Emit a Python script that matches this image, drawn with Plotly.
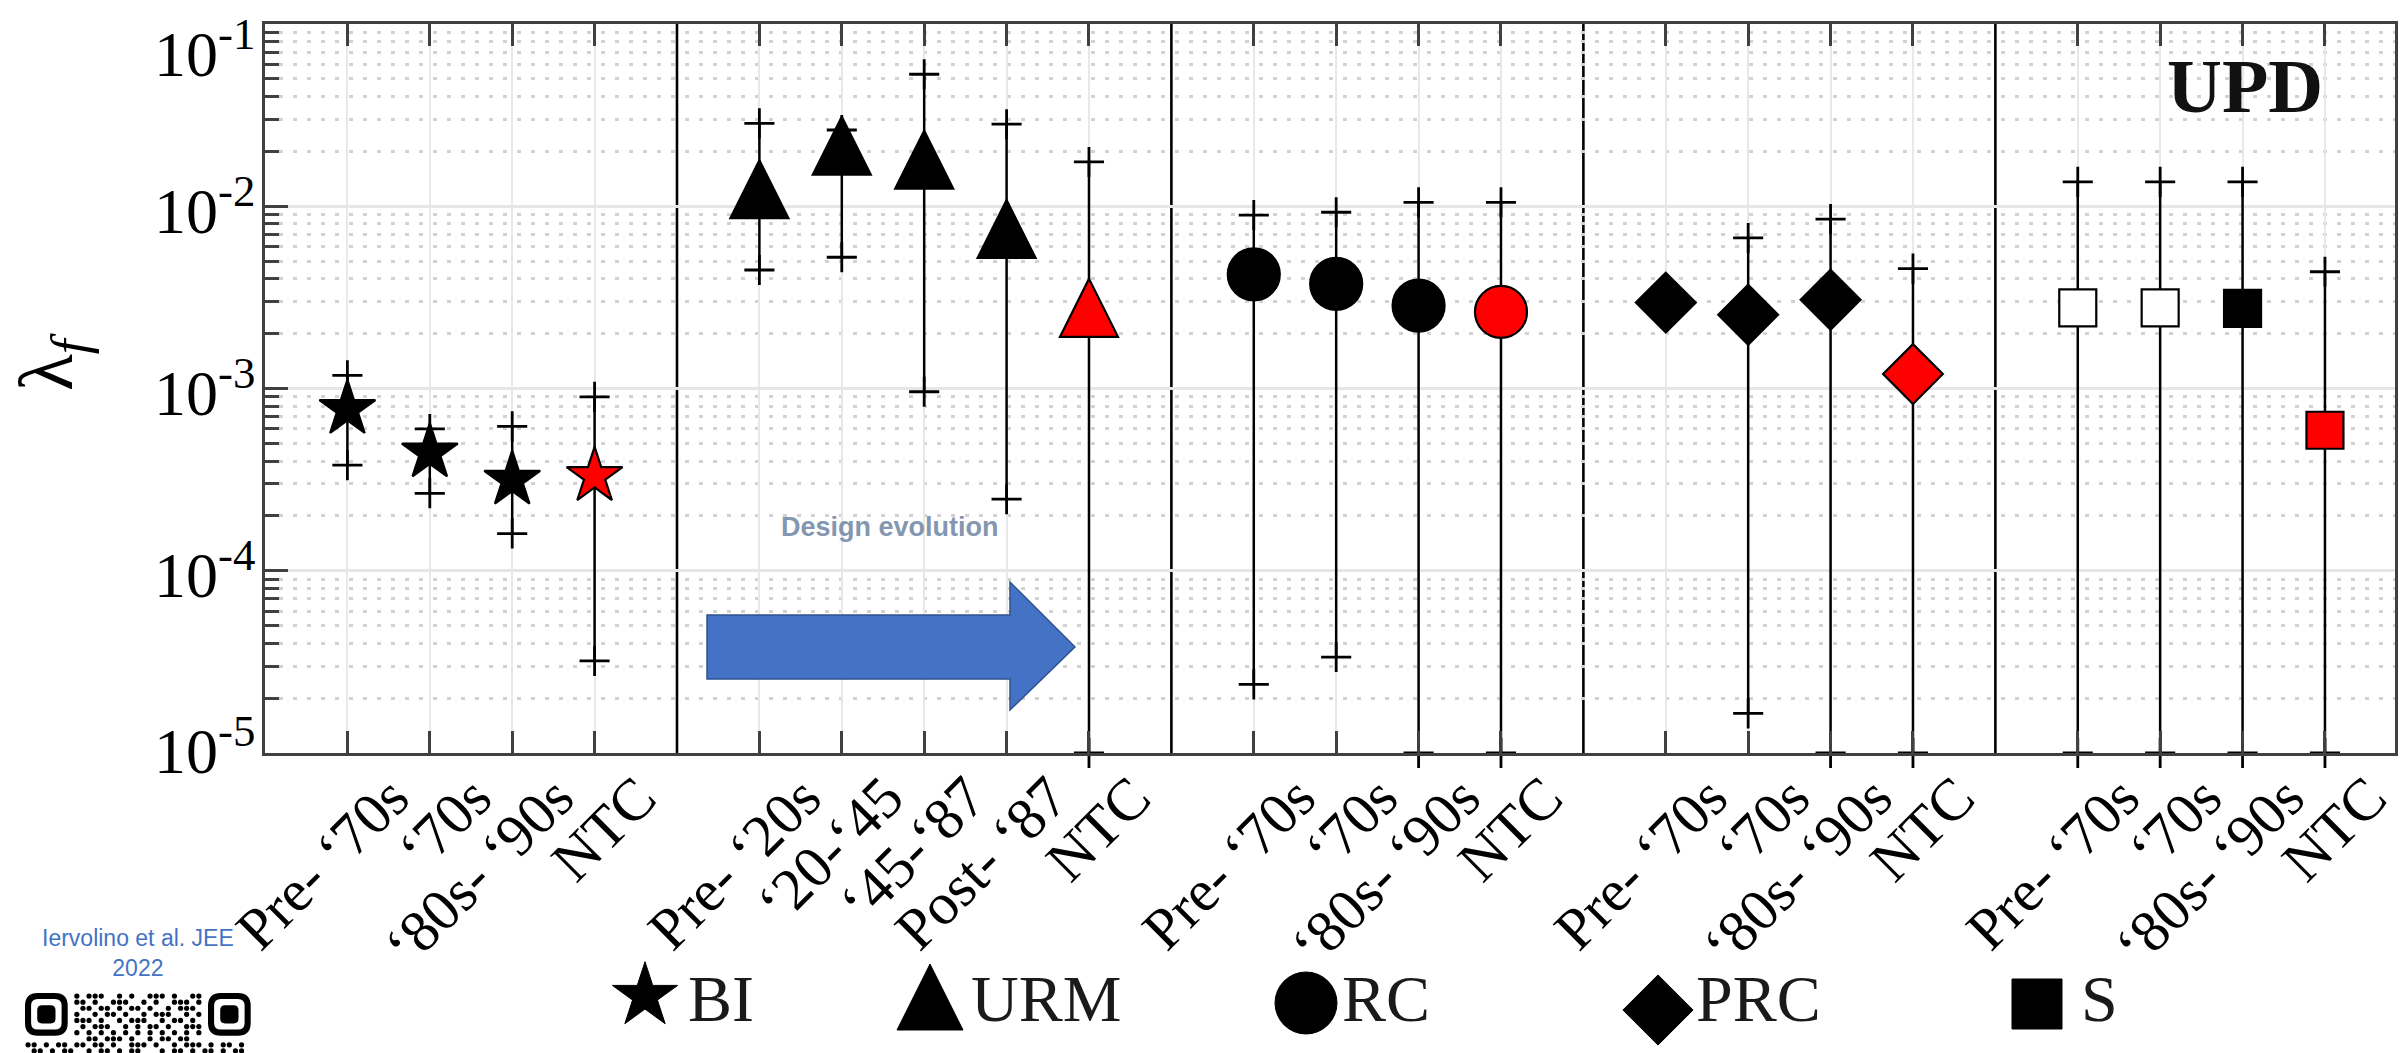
import math
import plotly.graph_objects as go

W, H = 2407, 1053

# ---- data: failure rate lambda_f by building class and design period ----
BI_PERIODS = ["Pre- ‘70s", "‘70s", "‘80s- ‘90s", "NTC"]
BI_LAMBDA = [7.7e-4, 4.45e-4, 3.15e-4, 3.3e-4]
BI_UPPER = [1.18e-3, 6.0e-4, 6.2e-4, 9.0e-4]
BI_LOWER = [3.8e-4, 2.66e-4, 1.6e-4, 3.2e-5]

URM_PERIODS = ["Pre- ‘20s", "‘20-‘45", "‘45-‘87", "Post- ‘87", "NTC"]
URM_LAMBDA = [1.24e-2, 2.15e-2, 1.80e-2, 7.5e-3, 2.77e-3]
URM_UPPER = [2.85e-2, 2.62e-2, 5.3e-2, 2.82e-2, 1.75e-2]
URM_LOWER = [4.47e-3, 5.25e-3, 9.6e-4, 2.47e-4, 1e-5]

RC_PERIODS = ["Pre- ‘70s", "‘70s", "‘80s- ‘90s", "NTC"]
RC_LAMBDA = [4.23e-3, 3.75e-3, 2.85e-3, 2.63e-3]
RC_UPPER = [8.95e-3, 9.27e-3, 1.05e-2, 1.05e-2]
RC_LOWER = [2.38e-5, 3.36e-5, 1e-5, 1e-5]

PRC_PERIODS = ["Pre- ‘70s", "‘70s", "‘80s- ‘90s", "NTC"]
PRC_LAMBDA = [2.96e-3, 2.54e-3, 3.07e-3, 1.2e-3]
PRC_UPPER = [None, 6.7e-3, 8.5e-3, 4.55e-3]
PRC_LOWER = [None, 1.65e-5, 1e-5, 1e-5]

S_PERIODS = ["Pre- ‘70s", "‘70s", "‘80s- ‘90s", "NTC"]
S_LAMBDA = [2.77e-3, 2.77e-3, 2.75e-3, 5.9e-4]
S_UPPER = [1.36e-2, 1.36e-2, 1.36e-2, 4.37e-3]
S_LOWER = [1e-5, 1e-5, 1e-5, 1e-5]

Y_DECADES = [1e-5, 1e-4, 1e-3, 1e-2, 1e-1]

# top rows of the paper's QR code (dot modules; finder squares drawn apart)
QR_ROWS = [
    "        101110010100111010011        ",
    "        110100111001010011101        ",
    "        011011010110100101110        ",
    "        100101101001011100101        ",
    "        111010010111001011010        ",
    "        010111001010110100111        ",
    "        101010101010101010101        ",
    "        001101110100101101100        ",
    "110101101101101001110100101110101101",
    "0110101100101101011000101101011010110",
]

# ---- styles ----
K, RED, WHITE = "black", "#ff0000", "white"
CLASS_STYLE = {
    "BI": dict(symbol="star", size=42, fills=[K, K, K, RED]),
    "URM": dict(symbol="arrow-down", angle=180, size=58, fills=[K, K, K, K, RED]),
    "RC": dict(symbol="circle", size=52, fills=[K, K, K, RED]),
    "PRC": dict(symbol="diamond", size=46, fills=[K, K, K, RED]),
    "S": dict(symbol="square", size=37, fills=[WHITE, WHITE, K, RED]),
}
LEGEND_STYLE = {
    "BI": dict(size=49, at=(645, 996), text_at=(688, 1005)),
    "URM": dict(size=66, at=(930, 997), text_at=(971, 1005)),
    "RC": dict(size=62, at=(1306, 1003), text_at=(1342, 1005)),
    "PRC": dict(size=54, at=(1658, 1010), text_at=(1696, 1005)),
    "S": dict(size=50, at=(2037, 1004), text_at=(2081, 1005)),
}
# vertical nudges (px) for the end decade labels so they stay inside the frame
Y_LABEL_NUDGE = {-1: -26, -5: 7}
QR_ORIGIN, QR_PITCH = (25, 993), 6.1
SERIF = "Liberation Serif"
AX = "#404040"

groups = [
    ("BI", BI_PERIODS, BI_LAMBDA, BI_UPPER, BI_LOWER),
    ("URM", URM_PERIODS, URM_LAMBDA, URM_UPPER, URM_LOWER),
    ("RC", RC_PERIODS, RC_LAMBDA, RC_UPPER, RC_LOWER),
    ("PRC", PRC_PERIODS, PRC_LAMBDA, PRC_UPPER, PRC_LOWER),
    ("S", S_PERIODS, S_LAMBDA, S_UPPER, S_LOWER),
]

# category slots: one empty slot between classes holds the separator line
tick_pos, tick_text, separators, placed = [], [], [], []
slot = 1
for name, periods, lam, up, lo in groups:
    xs = list(range(slot, slot + len(periods)))
    tick_pos += xs
    tick_text += periods
    placed.append((name, xs, lam, up, lo))
    slot += len(periods)
    separators.append(slot)
    slot += 1
separators = separators[:-1]

fig = go.Figure()

# whiskers (lower to upper bound)
wx, wy, wplus, wminus = [], [], [], []
bx, bup, blo = [], [], []
for name, xs, lam, up, lo in placed:
    for x, v, u, l in zip(xs, lam, up, lo):
        if u is None or l is None:
            continue
        wx.append(x); wy.append(v)
        wplus.append(u - v); wminus.append(v - l)
        bx.append(x); bup.append(u); blo.append(l)

fig.add_trace(go.Scatter(
    x=wx, y=wy, mode="markers", marker=dict(size=1, opacity=0),
    error_y=dict(type="data", symmetric=False, array=wplus, arrayminus=wminus,
                 color=K, thickness=2.5, width=0),
    cliponaxis=False, hoverinfo="skip"))

# '+' marks at both bounds
for bounds in (bup, blo):
    fig.add_trace(go.Scatter(
        x=bx, y=bounds, mode="markers", cliponaxis=False, hoverinfo="skip",
        marker=dict(symbol="cross-thin", size=21.5, color=K,
                    line=dict(color=K, width=2.8))))

# central estimates
for name, xs, lam, up, lo in placed:
    st = CLASS_STYLE[name]
    mk = dict(symbol=st["symbol"], size=st["size"], color=st["fills"],
              line=dict(color=K, width=2.2))
    if "angle" in st:
        mk.update(angle=st["angle"], standoff=st["size"] / 2)
    fig.add_trace(go.Scatter(x=xs, y=lam, mode="markers", marker=mk,
                             cliponaxis=False, name=name))

# class key along the bottom (pixel-space helper axes)
for name, _, _, _, _ in groups:
    st = CLASS_STYLE[name]
    lg = LEGEND_STYLE[name]
    mk = dict(symbol=st["symbol"], size=lg["size"], color=K,
              line=dict(color=K, width=1))
    if "angle" in st:
        mk.update(angle=st["angle"], standoff=lg["size"] / 2)
    fig.add_trace(go.Scatter(x=[lg["at"][0]], y=[lg["at"][1]], mode="markers",
                             marker=mk, xaxis="x2", yaxis="y2",
                             cliponaxis=False, hoverinfo="skip"))
    fig.add_trace(go.Scatter(x=[lg["text_at"][0]], y=[lg["text_at"][1]],
                             mode="text", text=[name], textposition="middle right",
                             textfont=dict(family=SERIF, size=66, color="#1a1a1a"),
                             xaxis="x2", yaxis="y2", cliponaxis=False,
                             hoverinfo="skip"))

# QR dot modules
qx, qy = [], []
for r, row in enumerate(QR_ROWS):
    for c, ch in enumerate(row):
        if ch == "1":
            qx.append(QR_ORIGIN[0] + (c + 0.5) * QR_PITCH)
            qy.append(QR_ORIGIN[1] + (r + 0.5) * QR_PITCH)
fig.add_trace(go.Scatter(x=qx, y=qy, mode="markers", xaxis="x2", yaxis="y2",
                         marker=dict(symbol="circle", size=5.2, color=K,
                                     line=dict(width=0)),
                         cliponaxis=True, hoverinfo="skip"))

minor_vals = [m * d for d in Y_DECADES[:-1] for m in range(2, 10)]

PLOT_L, PLOT_R, PLOT_T, PLOT_B = 265, 2395, 24, 753


def px(x, y):
    return x / W, 1 - y / H


def rounded_rect(x0, y0, x1, y1, rad):
    pts = []
    def p(x, y):
        return "%.6f,%.6f" % px(x, y)
    return ("M" + p(x0 + rad, y0) + " L" + p(x1 - rad, y0) +
            " Q" + p(x1, y0) + " " + p(x1, y0 + rad) +
            " L" + p(x1, y1 - rad) + " Q" + p(x1, y1) + " " + p(x1 - rad, y1) +
            " L" + p(x0 + rad, y1) + " Q" + p(x0, y1) + " " + p(x0, y1 - rad) +
            " L" + p(x0, y0 + rad) + " Q" + p(x0, y0) + " " + p(x0 + rad, y0) + " Z")


fig.update_layout(
    template="none",
    width=W, height=H,
    margin=dict(l=0, r=0, t=0, b=0),
    paper_bgcolor="white", plot_bgcolor="rgba(0,0,0,0)",
    showlegend=False,
    xaxis=dict(
        domain=[PLOT_L / W, PLOT_R / W], range=[0, 25.85], anchor="y",
        tickmode="array", tickvals=tick_pos, ticktext=tick_text,
        tickangle=-45, tickfont=dict(family=SERIF, size=59, color="black"),
        ticks="inside", ticklen=22, tickwidth=2.5, tickcolor=AX,
        ticklabelshift=44, ticklabelstandoff=-17,
        showline=True, linecolor=AX, linewidth=3, mirror="ticks",
        showgrid=True, gridcolor="#e8e8e8", gridwidth=2,
        zeroline=False, automargin=False, fixedrange=True),
    yaxis=dict(
        domain=[1 - PLOT_B / H, 1 - PLOT_T / H], type="log", range=[-5, -1],
        anchor="x", tickmode="array", tickvals=Y_DECADES, showticklabels=False,
        ticks="inside", ticklen=23, tickwidth=2.5, tickcolor=AX,
        showline=True, linecolor=AX, linewidth=3, mirror=True,
        showgrid=True, gridcolor="#e6e6e6", gridwidth=2.5,
        minor=dict(tickmode="array", tickvals=minor_vals, ticks="inside",
                   ticklen=14, tickwidth=2.5, tickcolor=AX,
                   showgrid=True, gridcolor="#d2d2d2", gridwidth=2.5,
                   griddash="4px,10px"),
        zeroline=False, automargin=False, fixedrange=True),
    xaxis2=dict(domain=[0, 1], range=[0, W], visible=False, anchor="y2",
                fixedrange=True),
    yaxis2=dict(domain=[0, 0.2], range=[H, H * 0.8], visible=False,
                anchor="x2", fixedrange=True),
)

shapes = []
for s in separators:
    shapes.append(dict(type="line", xref="x", yref="paper", x0=s, x1=s,
                       y0=1 - PLOT_B / H, y1=1 - PLOT_T / H, layer="between",
                       line=dict(color="black", width=2.6)))

# block arrow for the design-evolution note
arrow_px = [(707, 615), (1010, 615), (1010, 582), (1075, 647),
            (1010, 710), (1010, 679), (707, 679)]
path = "M" + " L".join("%.5f,%.5f" % px(x, y) for x, y in arrow_px) + " Z"
shapes.append(dict(type="path", xref="paper", yref="paper", path=path,
                   fillcolor="#4472C4", line=dict(color="#2F528F", width=1.5),
                   layer="above"))

# QR finder squares (rounded ring + rounded core)
m = QR_PITCH
for col0 in (0, 30):
    fx = QR_ORIGIN[0] + col0 * m
    fy = QR_ORIGIN[1]
    shapes.append(dict(type="path", xref="paper", yref="paper",
                       path=rounded_rect(fx + m / 2, fy + m / 2,
                                         fx + 6.5 * m, fy + 6.5 * m, 1.6 * m),
                       line=dict(color="black", width=m), fillcolor="white"))
    shapes.append(dict(type="path", xref="paper", yref="paper",
                       path=rounded_rect(fx + 2 * m, fy + 2 * m,
                                         fx + 5 * m, fy + 5 * m, 0.8 * m),
                       line=dict(width=0), fillcolor="black"))
fig.update_layout(shapes=shapes)

ann = []
for d in Y_DECADES:
    e = int(round(math.log10(d)))
    ann.append(dict(text="10<sup>%d</sup>" % e, xref="paper", yref="y",
                    x=(PLOT_L - 8) / W, y=e, xanchor="right", yanchor="middle",
                    yshift=Y_LABEL_NUDGE.get(e, 0), showarrow=False,
                    font=dict(family=SERIF, size=64, color="black")))
ann.append(dict(text="λ<sub><i>f</i></sub>", xref="paper", yref="paper",
                x=52 / W, y=1 - 362 / H, textangle=-90, showarrow=False,
                xanchor="center", yanchor="middle",
                font=dict(family=SERIF, size=76, color="black")))
ann.append(dict(text="<b>UPD</b>", xref="paper", yref="paper",
                x=2245 / W, y=1 - 86 / H, showarrow=False,
                xanchor="center", yanchor="middle",
                font=dict(family=SERIF, size=76, color="#111111")))
ann.append(dict(text="<b>Design evolution</b>", xref="paper", yref="paper",
                x=890 / W, y=1 - 527 / H, showarrow=False,
                xanchor="center", yanchor="middle",
                font=dict(family="Liberation Sans", size=27, color="#8497B0")))
ann.append(dict(text="Iervolino et al. JEE<br>2022", xref="paper",
                yref="paper", x=138 / W, y=1 - 953 / H, showarrow=False,
                xanchor="center", yanchor="middle",
                font=dict(family="Liberation Sans", size=23, color="#4472C4")))
fig.update_layout(annotations=ann)

fig.write_html("out.html")
